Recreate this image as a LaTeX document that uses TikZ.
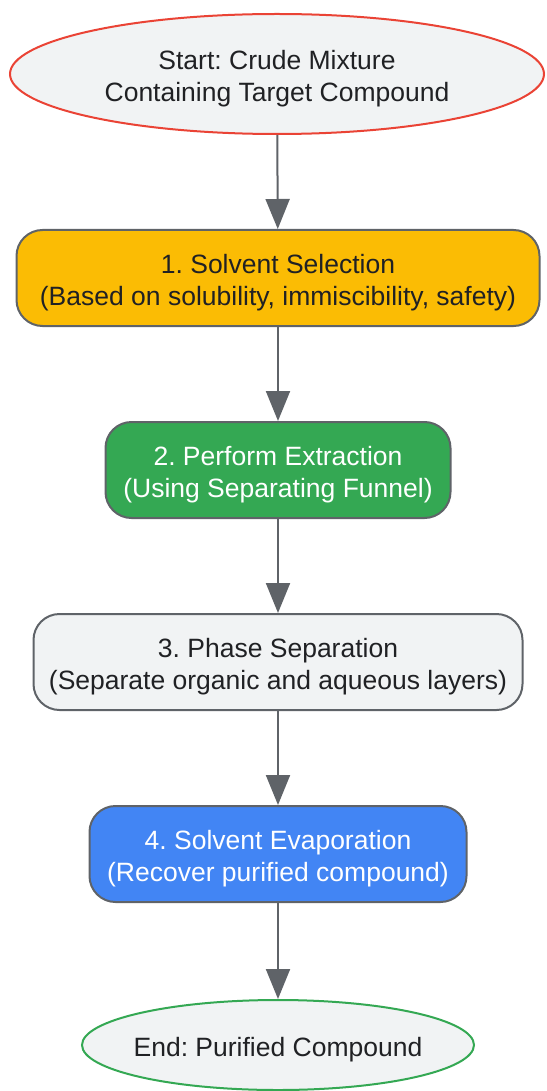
\documentclass[tikz,border=0pt]{standalone}
\usepackage{fontspec}
\setmainfont{Liberation Sans}
\usetikzlibrary{shapes.geometric,arrows.meta}
\definecolor{edgegrey}{HTML}{5F6368}
\definecolor{lightfill}{HTML}{F1F3F4}
\definecolor{gred}{HTML}{EA4335}
\definecolor{ggreen}{HTML}{34A853}
\definecolor{gyellow}{HTML}{FBBC04}
\definecolor{gblue}{HTML}{4285F4}
\definecolor{txtdark}{HTML}{202124}
\newcommand{\topstrut}{\rule{0pt}{28pt}}
\tikzset{
  terminal/.style={ellipse, draw, line width=2pt, fill=lightfill, text=txtdark,
    inner sep=0pt, align=center, font=\fontsize{26.5}{32}\selectfont},
  stepbox/.style={rectangle, rounded corners=26pt, draw=edgegrey, line width=2pt,
    minimum height=96pt, inner sep=0pt, align=center, font=\fontsize{26.5}{32}\selectfont},
  flow/.style={draw=edgegrey, line width=2pt, -{Triangle[length=30pt,width=24pt]}}
}
\frenchspacing
\begin{document}
\begin{tikzpicture}[x=1pt,y=-1pt]
  \useasboundingbox (0,0) rectangle (546,1091);
  \node[terminal, draw=gred, minimum width=534pt, minimum height=120pt] (start) at (277,74)
    {\topstrut Start: Crude Mixture\\Containing Target Compound};
  \node[stepbox, fill=gyellow, text=txtdark, minimum width=523pt] (select) at (278,278)
    {\topstrut 1. Solvent Selection\\(Based on solubility, immiscibility, safety)};
  \node[stepbox, fill=ggreen, text=white, minimum width=345pt] (extract) at (278,470)
    {\topstrut 2. Perform Extraction\\(Using Separating Funnel)};
  \node[stepbox, fill=lightfill, text=txtdark, minimum width=489pt] (phase) at (278,662)
    {\topstrut 3. Phase Separation\\(Separate organic and aqueous layers)};
  \node[stepbox, fill=gblue, text=white, minimum width=377pt] (evap) at (278,854)
    {\topstrut 4. Solvent Evaporation\\(Recover purified compound)};
  \node[terminal, draw=ggreen, inner xsep=-8pt, minimum width=392pt, minimum height=90pt] (end) at (278,1045)
    {\topstrut End: Purified Compound};
  % connectors
  \draw[flow] (start) -- (select);
  \draw[flow] (select) -- (extract);
  \draw[flow] (extract) -- (phase);
  \draw[flow] (phase) -- (evap);
  \draw[flow] (evap) -- (end);
\end{tikzpicture}
\end{document}
